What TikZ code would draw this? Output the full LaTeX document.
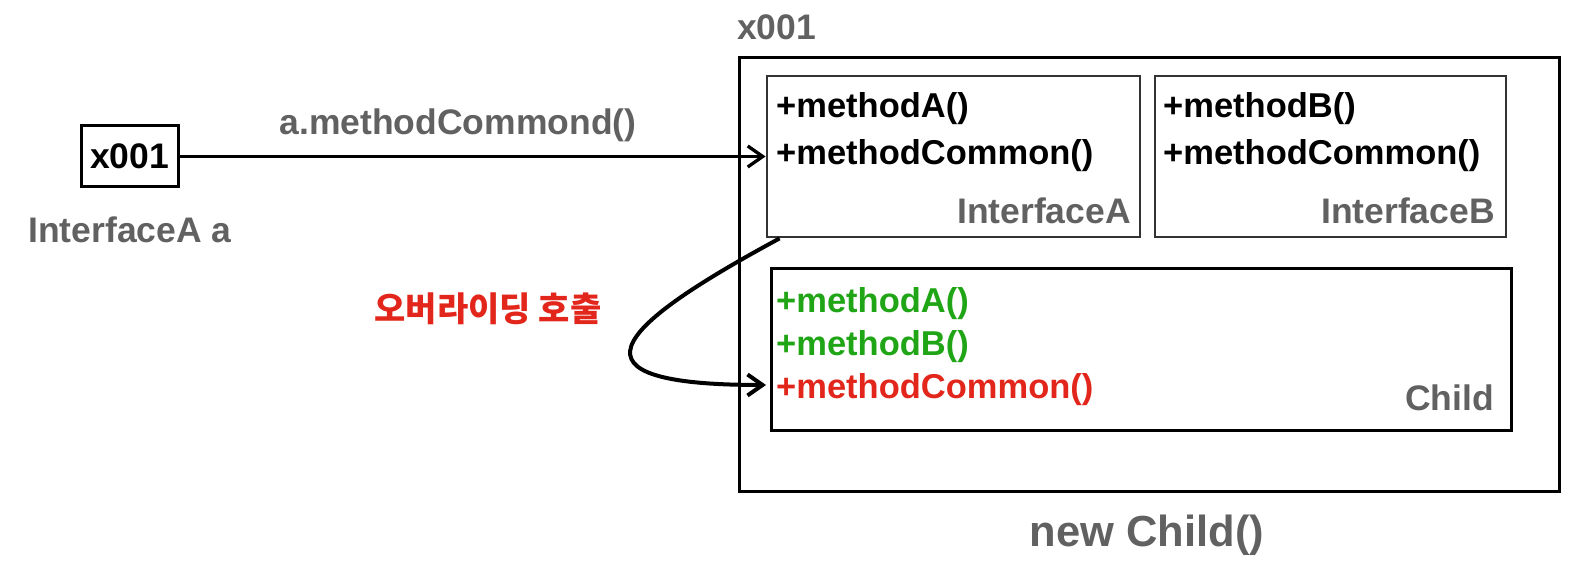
\documentclass[tikz,border=0pt]{standalone}
\usepackage{fontspec}
\setmainfont{Liberation Sans}
\newfontfamily\krfont{Noto Sans CJK KR}
\usepackage{xcolor}
\usetikzlibrary{arrows.meta, positioning}
\definecolor{labelgray}{HTML}{616161}
\definecolor{okgreen}{HTML}{1FA516}
\definecolor{callred}{HTML}{E2261B}
\definecolor{boxgray}{HTML}{333333}

\begin{document}
\begin{tikzpicture}[
  x=1pt, y=-1pt,
  objbox/.style={rectangle, draw=black, line width=3pt, inner sep=0pt},
  ifacebox/.style={rectangle, draw=boxgray, line width=2.8pt, inner sep=0pt,
                   minimum height=161pt},
  method/.style={font=\fontsize{34.5}{41}\selectfont\bfseries, inner sep=0pt,
                 anchor=base west},
  typelabel/.style={font=\fontsize{35.5}{42}\selectfont\bfseries, text=labelgray,
                    inner sep=0pt},
  callarrow/.style={-{Straight Barb[length=15pt, width=21pt]}, line width=3.3pt}
]
\useasboundingbox (0,0) rectangle (1580,564);

% reference variable
\node[objbox, minimum width=97pt, minimum height=61pt,
      font=\fontsize{35.5}{42}\selectfont\bfseries] (ref) at (129.5,156.5) {x001};
\node[typelabel, anchor=base] (reftype) at (130,243) {InterfaceA a};
\node[typelabel, anchor=base] (callname) at (458,135) {a.methodCommond()};

% instance
\node[objbox, minimum width=820pt, minimum height=433pt] (obj) at (1149,274.5) {};
\node[typelabel, anchor=base west] (addr) at (737,40) {x001};
\node[typelabel, anchor=base, font=\fontsize{43.5}{52}\selectfont\bfseries]
  (newchild) at (1147,546) {new Child()};

\node[ifacebox, minimum width=373pt] (ifA) at (953.5,156.5) {};
\node[method] (ifAm1) at (776,118) {+methodA()};
\node[method] (ifAm2) at (776,165) {+methodCommon()};
\node[typelabel, anchor=base east] (ifAname) at (1131,224) {InterfaceA};

\node[ifacebox, minimum width=351pt] (ifB) at (1330.5,156.5) {};
\node[method] (ifBm1) at (1163,118) {+methodB()};
\node[method] (ifBm2) at (1163,165) {+methodCommon()};
\node[typelabel, anchor=base east] (ifBname) at (1495,224) {InterfaceB};

\node[objbox, minimum width=740pt, minimum height=161pt] (child) at (1141,349.5) {};
\node[method, text=okgreen] (chm1) at (776,312) {+methodA()};
\node[method, text=okgreen] (chm2) at (776,355) {+methodB()};
\node[method, text=callred] (chm3) at (776,398) {+methodCommon()};
\node[typelabel, anchor=base east] (chname) at (1494,410) {Child};

\node[font=\krfont\fontsize{34}{40}\selectfont\bfseries, text=callred, inner sep=0pt]
  (override) at (488,309) {오버라이딩 호출};

\coordinate (callstart) at ([xshift=14pt]ifA.south west);
\coordinate (callend) at (766,385);

\draw[callarrow] (ref.east) -- (ref.east -| ifA.west);
\draw[callarrow, line width=4pt] (callstart) .. controls (610,330) and (560,385) .. (callend);

\end{tikzpicture}
\end{document}
